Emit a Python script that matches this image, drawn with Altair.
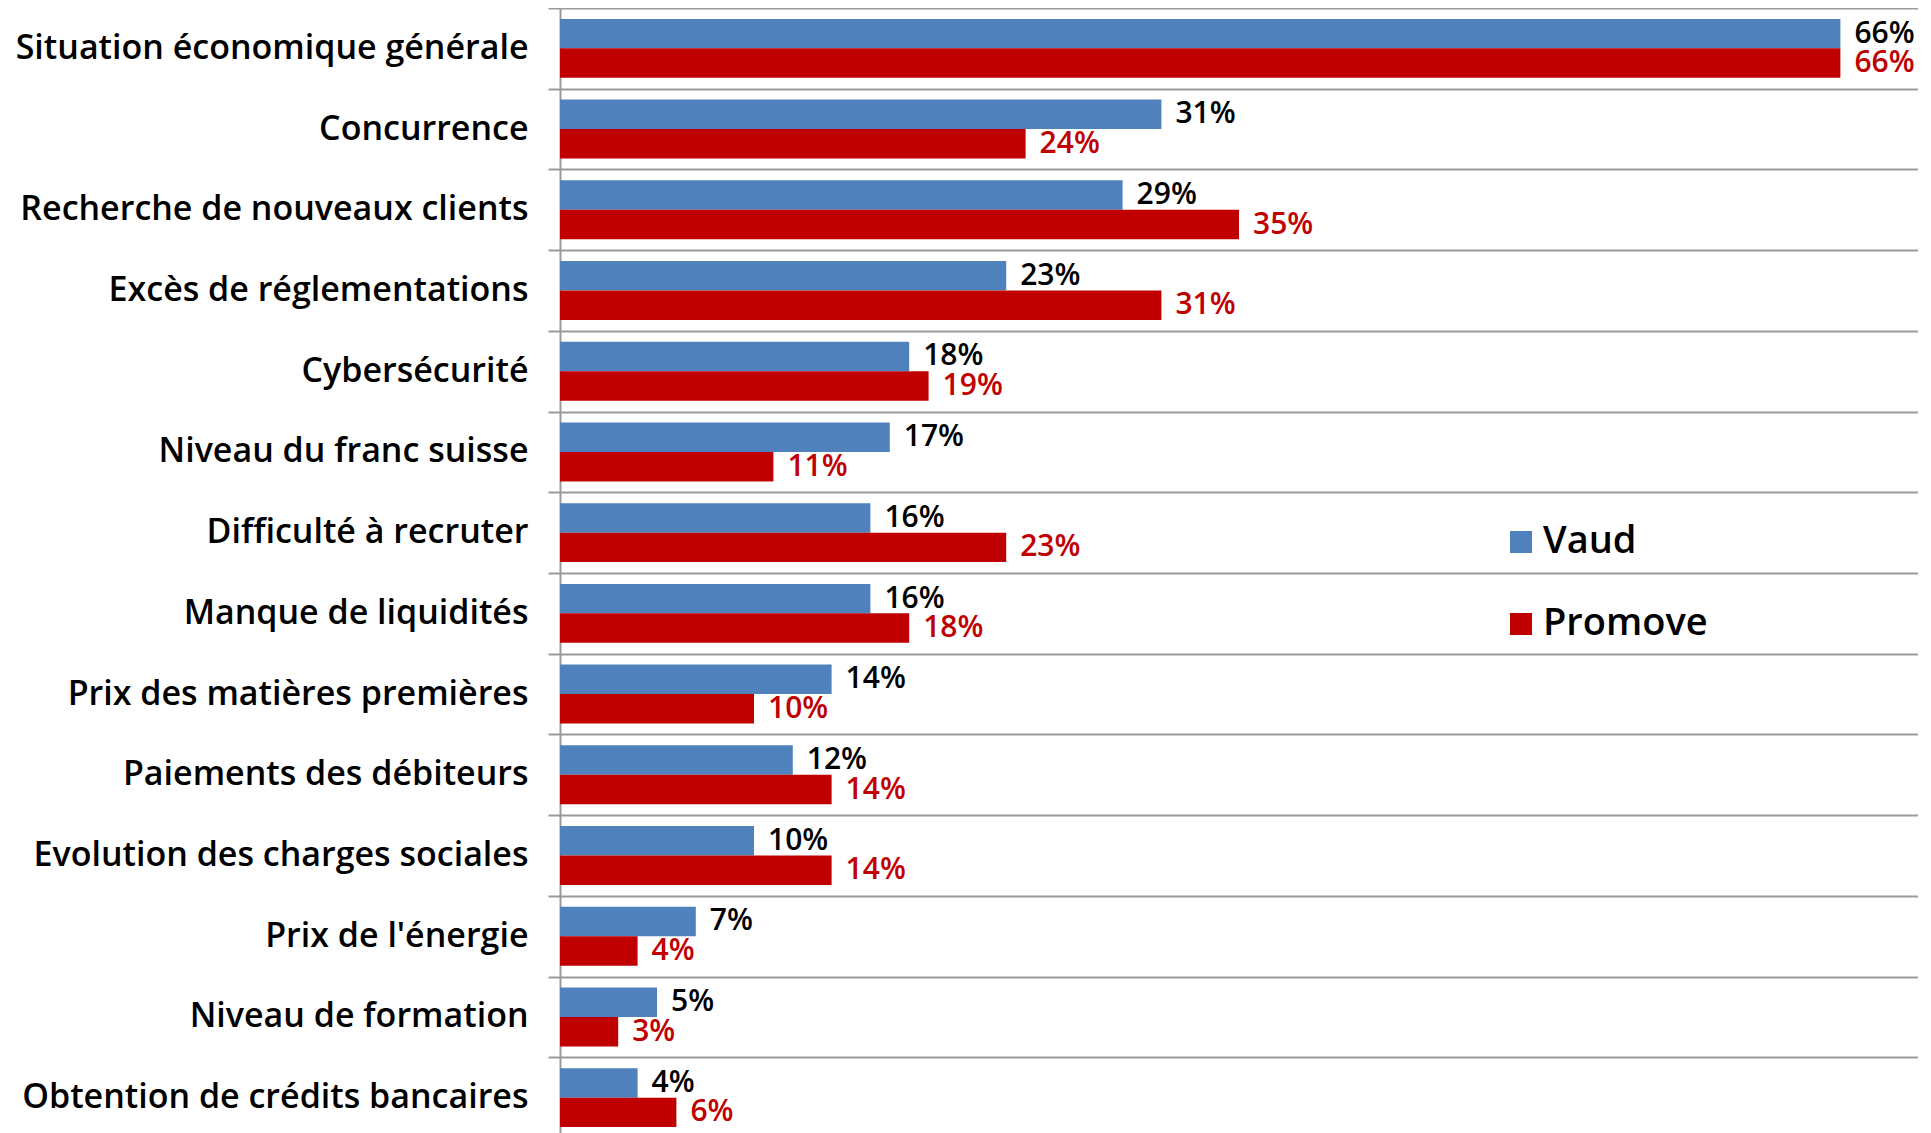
import altair as alt
import pandas as pd

categories = ["Situation économique générale", "Concurrence", "Recherche de nouveaux clients",
              "Excès de réglementations", "Cybersécurité", "Niveau du franc suisse",
              "Difficulté à recruter", "Manque de liquidités", "Prix des matières premières",
              "Paiements des débiteurs", "Evolution des charges sociales", "Prix de l'énergie",
              "Niveau de formation", "Obtention de crédits bancaires"]
series = ["Vaud", "Promove"]
vaud = [66, 31, 29, 23, 18, 17, 16, 16, 14, 12, 10, 7, 5, 4]
promove = [66, 24, 35, 31, 19, 11, 23, 18, 10, 14, 14, 4, 3, 6]

rows = []
for c, v, p in zip(categories, vaud, promove):
    rows.append({"cat": c, "series": "Vaud", "value": v, "label": f"{v}%"})
    rows.append({"cat": c, "series": "Promove", "value": p, "label": f"{p}%"})
df = pd.DataFrame(rows)

FONT = "Open Sans"
y_enc = alt.Y("cat:N", sort=categories, title=None,
              scale=alt.Scale(paddingInner=0, paddingOuter=0),
              axis=alt.Axis(tickBand="extent", grid=True, gridColor="#9a9a9a", gridWidth=2,
                            domainColor="#9a9a9a", domainWidth=2, tickColor="#9a9a9a",
                            tickWidth=2, tickSize=12, labelPadding=20, labelFont=FONT,
                            labelFontSize=34, labelFontWeight=600, labelColor="black",
                            labelLimit=600))
yoff = alt.YOffset("series:N", sort=series,
                   scale=alt.Scale(paddingInner=0, paddingOuter=0.37))
x_enc = alt.X("value:Q", scale=alt.Scale(domain=[0, 70]), axis=None)

bars = alt.Chart(df).mark_bar().encode(
    x=x_enc, y=y_enc, yOffset=yoff,
    color=alt.Color("series:N", sort=series,
                    scale=alt.Scale(domain=series, range=["#4F81BD", "#C00000"]),
                    legend=alt.Legend(title=None, orient="none", legendX=942, legendY=515,
                                      symbolType="square", symbolSize=484,
                                      symbolStrokeWidth=0, labelFont=FONT,
                                      labelFontSize=38, labelFontWeight=600,
                                      labelColor="black", rowPadding=44, labelOffset=3,
                                      labelLimit=400, padding=0))
)

texts = alt.Chart(df).mark_text(align="left", baseline="middle", dx=14, font=FONT,
                                fontSize=30, fontWeight=600).encode(
    x=x_enc, y=alt.Y("cat:N", sort=categories), yOffset=yoff,
    text="label:N",
    color=alt.condition(alt.datum.series == "Vaud", alt.value("black"), alt.value("#C00000"))
)

chart = alt.layer(bars, texts).properties(
    width=1358, height=1130,
    autosize=alt.AutoSizeParams(type="none"),
    padding={"left": 552, "top": 0, "right": 0, "bottom": 0},
).configure_view(stroke=None)

chart.save("out.html", embed_options={"renderer": "svg", "actions": False})
